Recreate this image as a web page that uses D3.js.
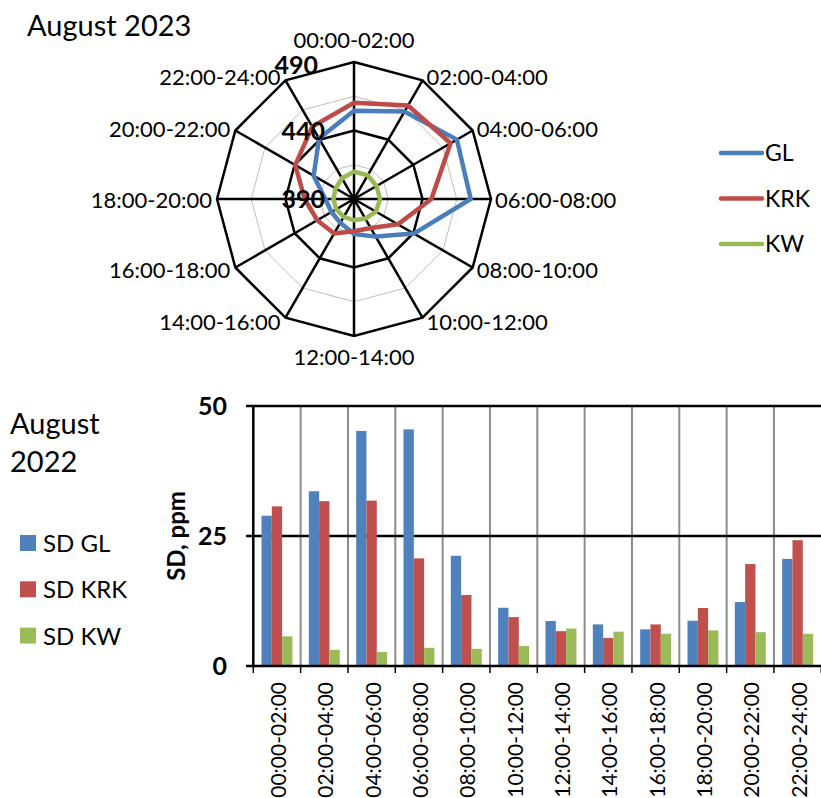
<!DOCTYPE html>
<html>
<head>
<meta charset="utf-8">
<script src="https://cdnjs.cloudflare.com/ajax/libs/d3/7.8.5/d3.min.js"></script>
<style>
  body { margin: 0; background: #fff; }
  svg { display: block; font-family: Lato, "Open Sans", sans-serif; }
</style>
</head>
<body>
<div id="chart"></div>
<script>
// time slots (shared by both charts)
const periods = ["00:00-02:00", "02:00-04:00", "04:00-06:00", "06:00-08:00",
  "08:00-10:00", "10:00-12:00", "12:00-14:00", "14:00-16:00",
  "16:00-18:00", "18:00-20:00", "20:00-22:00", "22:00-24:00"];

// radar, August 2023 (ppm)
const radarNames = ["GL", "KRK", "KW"];
const radarGL  = [454.5, 463.7, 476.7, 475.2, 440.5, 421.7, 415.5, 410, 409, 411, 424, 441];
const radarKRK = [460.3, 468.8, 471.4, 446.5, 427, 414.5, 413.5, 419, 421, 426, 439.5, 451];
const radarKW  = [410, 410, 409, 409, 408.5, 406.5, 405.5, 405, 405, 405, 405.5, 407.5];
const radarMajor = [390, 440, 490];
const radarMinor = [415, 465];

// bars, August 2022 (SD, ppm)
const sdNames = ["SD GL", "SD KRK", "SD KW"];
const sdGL  = [28.9, 33.6, 45.2, 45.5, 21.2, 11.2, 8.65, 8.0, 7.05, 8.7, 12.3, 20.6];
const sdKRK = [30.7, 31.7, 31.8, 20.7, 13.65, 9.4, 6.7, 5.4, 8.0, 11.15, 19.6, 24.2];
const sdKW  = [5.7, 3.1, 2.7, 3.5, 3.3, 3.85, 7.2, 6.6, 6.2, 6.85, 6.5, 6.2];
const sdTicks = [0, 25, 50];

const lineColors = ["#4A7EBB", "#BE4B48", "#98B954"];
const barColors  = ["#4F81BD", "#C0504D", "#9BBB59"];

const W = 821, H = 798;
const svg = d3.select("#chart").append("svg")
  .attr("width", W).attr("height", H);

svg.append("rect").attr("width", W).attr("height", H).attr("fill", "#fff");

// ===== radar =====
const cx = 354, cy = 199, R = 137;
const step = 2 * Math.PI / periods.length;
const rScale = d3.scaleLinear().domain([390, 490]).range([0, R]);

const radar = svg.append("g").attr("transform", `translate(${cx},${cy})`);

const ring = d3.lineRadial()
  .angle((d, i) => i * step)
  .radius(d => rScale(d))
  .curve(d3.curveLinearClosed);

// minor rings
radar.selectAll(".minor").data(radarMinor).enter().append("path")
  .attr("d", v => ring(periods.map(() => v)))
  .attr("fill", "none").attr("stroke", "#bdbdbd").attr("stroke-width", 1);

// spokes
radar.selectAll(".spoke").data(periods).enter().append("line")
  .attr("x1", 0).attr("y1", 0)
  .attr("x2", (d, i) => rScale(490) * Math.sin(i * step))
  .attr("y2", (d, i) => -rScale(490) * Math.cos(i * step))
  .attr("stroke", "#000").attr("stroke-width", 2.5);

// major rings
radar.selectAll(".major").data(radarMajor.slice(1)).enter().append("path")
  .attr("d", v => ring(periods.map(() => v)))
  .attr("fill", "none").attr("stroke", "#000").attr("stroke-width", 2.5)
  .attr("stroke-linejoin", "miter");

// series
[radarGL, radarKRK, radarKW].forEach((vals, k) => {
  radar.append("path")
    .attr("d", ring(vals))
    .attr("fill", "none")
    .attr("stroke", lineColors[k])
    .attr("stroke-width", 4.5)
    .attr("stroke-linejoin", "round");
});

// value labels
radar.selectAll(".rlab").data(radarMajor).enter().append("text")
  .attr("x", v => v === 490 ? -36 : -29)
  .attr("y", v => -rScale(v) + (v === 490 ? 12 : 9))
  .attr("text-anchor", "end")
  .attr("font-size", 25).attr("font-weight", "bold")
  .text(d => d);

// category labels
radar.selectAll(".clab").data(periods).enter().append("text")
  .each(function (d, i) {
    const a = i * step;
    const s = Math.sin(a), c = Math.cos(a);
    const vx = R * s, vy = -R * c;
    const t = d3.select(this);
    if (Math.abs(s) < 0.01) {
      t.attr("text-anchor", "middle").attr("x", 0)
        .attr("y", c > 0 ? vy - 14 : vy + 29);
    } else {
      t.attr("text-anchor", s > 0 ? "start" : "end")
        .attr("x", s > 0 ? vx + 4 : vx - 5)
        .attr("y", vy + 8.5 - 4 * c);
    }
  })
  .attr("font-size", 22)
  .text(d => d);

// legend radar
const rLeg = svg.append("g");
radarNames.forEach((n, k) => {
  const y = 153 + k * 45.5;
  rLeg.append("line")
    .attr("x1", 721).attr("x2", 762).attr("y1", y).attr("y2", y)
    .attr("stroke", lineColors[k]).attr("stroke-width", 4.5)
    .attr("stroke-linecap", "round");
  rLeg.append("text").attr("x", 765).attr("y", y + 8)
    .attr("font-size", 23).text(n);
});

svg.append("text").attr("x", 27).attr("y", 36)
  .attr("font-size", 29).text("August 2023");

// ===== bars =====
const x0 = d3.scaleBand().domain(periods).range([253.3, 821.3]);
const bw = x0.bandwidth();
const x1 = d3.scaleBand().domain(sdNames).range([bw * 0.173, bw * 0.827]);
const y = d3.scaleLinear().domain([0, 50]).range([666, 406]);

const bars = svg.append("g");

// vertical gridlines at category edges
bars.selectAll(".vg").data(periods.slice(1)).enter().append("line")
  .attr("x1", d => x0(d)).attr("x2", d => x0(d))
  .attr("y1", y(50)).attr("y2", y(0))
  .attr("stroke", "#8c8c8c").attr("stroke-width", 2);

// horizontal gridlines
bars.selectAll(".hg").data(sdTicks.slice(1)).enter().append("line")
  .attr("x1", 246).attr("x2", 821)
  .attr("y1", d => y(d)).attr("y2", d => y(d))
  .attr("stroke", "#000").attr("stroke-width", 2.5);

const sdData = [sdGL, sdKRK, sdKW];
periods.forEach((p, i) => {
  sdNames.forEach((n, k) => {
    bars.append("rect")
      .attr("x", x0(p) + x1(n))
      .attr("width", x1.bandwidth())
      .attr("y", y(sdData[k][i]))
      .attr("height", y(0) - y(sdData[k][i]))
      .attr("fill", barColors[k]);
  });
});

// axes lines
bars.append("line").attr("x1", 253.3).attr("x2", 253.3)
  .attr("y1", y(50) - 1).attr("y2", y(0) + 1)
  .attr("stroke", "#000").attr("stroke-width", 2.5);
bars.append("line").attr("x1", 246).attr("x2", 821)
  .attr("y1", y(0)).attr("y2", y(0))
  .attr("stroke", "#000").attr("stroke-width", 2.5);

// category ticks
bars.selectAll(".xt").data(periods.concat(["end"])).enter().append("line")
  .attr("x1", (d, i) => 253.3 + i * bw).attr("x2", (d, i) => 253.3 + i * bw)
  .attr("y1", y(0)).attr("y2", y(0) + 7)
  .attr("stroke", "#000").attr("stroke-width", 1.5);

// y tick labels
bars.selectAll(".yl").data(sdTicks).enter().append("text")
  .attr("x", 227).attr("y", d => y(d) + 8.5)
  .attr("text-anchor", "end")
  .attr("font-size", 25).attr("font-weight", "bold")
  .text(d => d);

// x labels
bars.selectAll(".xl").data(periods).enter().append("text")
  .attr("transform", d => `translate(${x0(d) + bw / 2 + 9},682) rotate(-90)`)
  .attr("text-anchor", "end")
  .attr("font-size", 21)
  .text(d => d);

// y axis title
svg.append("text")
  .attr("transform", "translate(185,536) rotate(-90)")
  .attr("text-anchor", "middle")
  .attr("font-size", 24).attr("font-weight", "bold")
  .text("SD, ppm");

// legend bars
svg.append("text").attr("x", 10).attr("y", 434).attr("font-size", 29).text("August");
svg.append("text").attr("x", 10).attr("y", 472).attr("font-size", 29).text("2022");
sdNames.forEach((n, k) => {
  const yy = 535 + k * 46.3;
  svg.append("rect").attr("x", 20).attr("y", yy).attr("width", 16).attr("height", 16)
    .attr("fill", barColors[k]);
  svg.append("text").attr("x", 43).attr("y", yy + 17)
    .attr("font-size", 24).text(n);
});
</script>
</body>
</html>
